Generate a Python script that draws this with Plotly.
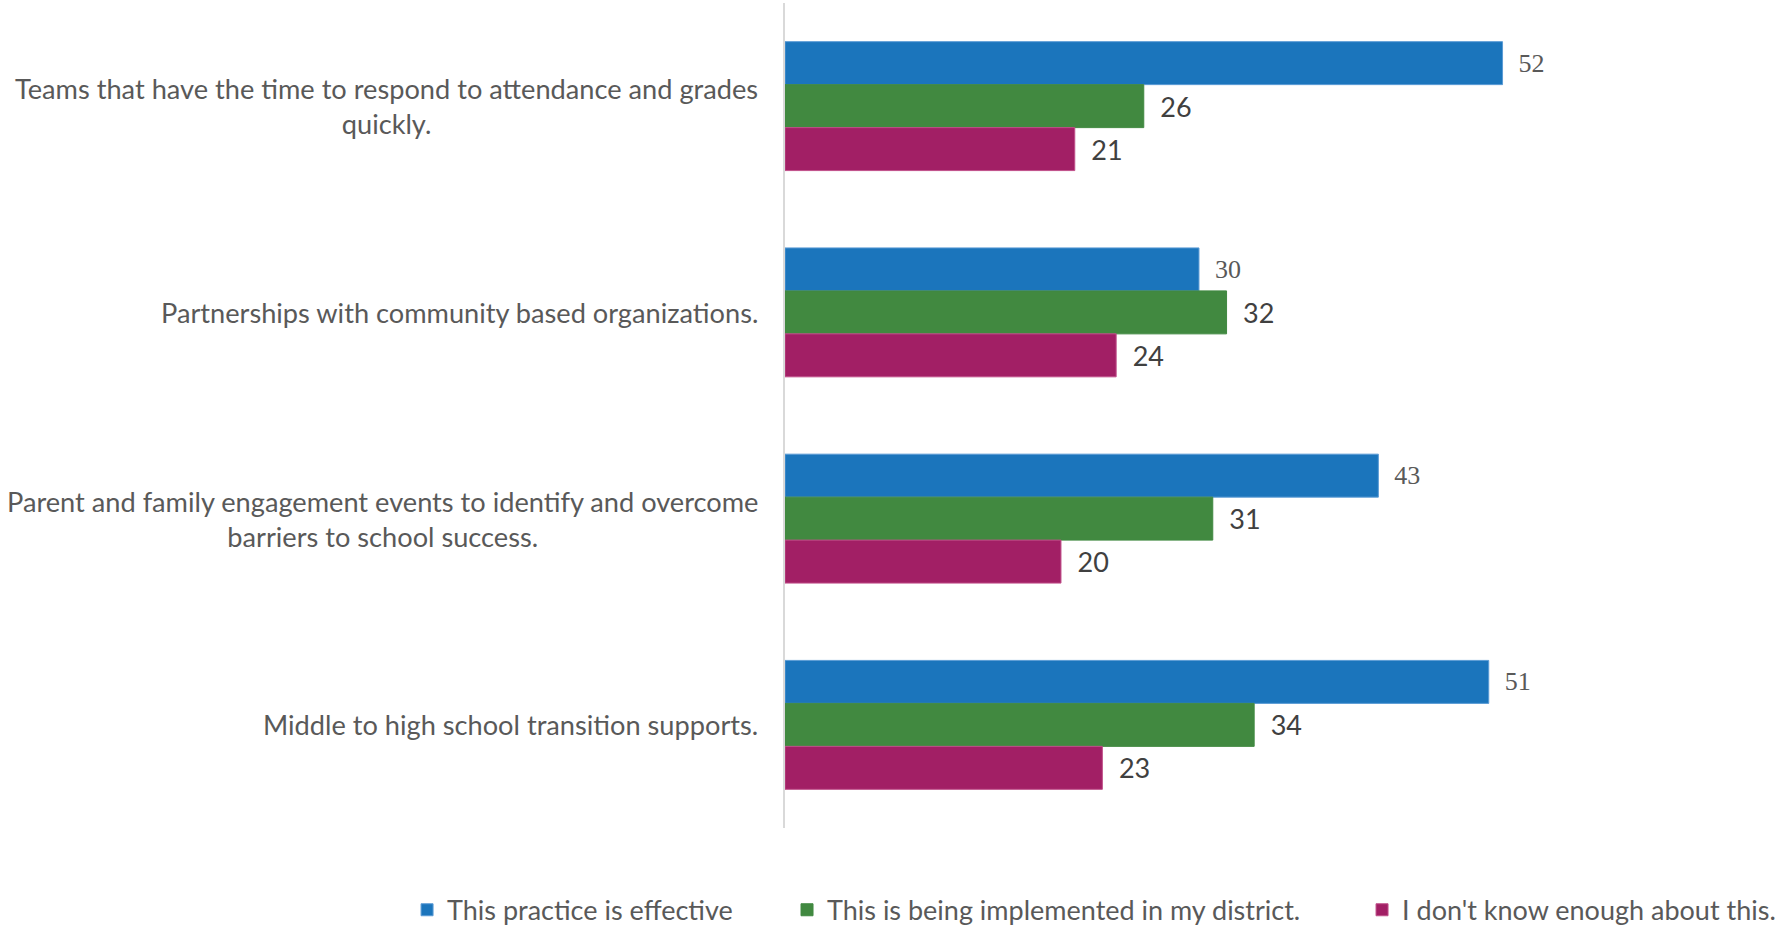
import plotly.graph_objects as go

# categories, top to bottom
categories = [
    "Teams that have the time to respond to attendance and grades<br>quickly.",
    "Partnerships with community based organizations.",
    "Parent and family engagement events to identify and overcome<br>barriers to school success.",
    "Middle to high school transition supports.",
]
series_names = [
    "This practice is effective",
    "This is being implemented in my district.",
    "I don't know enough about this.",
]
effective = [52, 30, 43, 51]
implemented = [26, 32, 31, 34]
dont_know = [21, 24, 20, 23]

colors = ["#1B75BC", "#418940", "#A21F65"]
edge_colors = ["#5B9BD5", "#418940", "#C0508A"]
label_fonts = [
    dict(family="Liberation Serif", size=26, color="#595959"),
    dict(family="Lato", size=27, color="#404040"),
    dict(family="Lato", size=27, color="#404040"),
]
legend_ids = ["legend", "legend2", "legend3"]
legend_x = [0.2283, 0.4414, 0.7639]

fig = go.Figure()
for name, vals, col, edge, lf, lg in zip(series_names, [effective, implemented, dont_know],
                                         colors, edge_colors, label_fonts, legend_ids):
    fig.add_trace(go.Bar(
        y=categories, x=vals, name=name, orientation="h", legend=lg,
        marker=dict(color=col, line=dict(color=edge, width=1)),
        text=vals, texttemplate="\u2002%{x}", textposition="outside",
        textfont=lf, cliponaxis=False,
    ))

# category labels, centred lines, right edge near the axis
for c in categories:
    fig.add_annotation(
        x=0, xref="paper", y=c, yref="y", text=c, showarrow=False,
        xanchor="right", align="center", xshift=-25,
        font=dict(family="Lato", size=27.2, color="#595959"),
    )

fig.update_layout(
    width=1783, height=925,
    margin=dict(l=785, r=10, t=3, b=97),
    plot_bgcolor="white", paper_bgcolor="white",
    barmode="group", bargap=0.375, bargroupgap=0,
    showlegend=True,
)
# one legend per series so each entry sits where the reference has it
for lg, lx in zip(legend_ids, legend_x):
    fig.update_layout({lg: dict(
        orientation="h", xref="container", yref="container",
        x=lx, xanchor="left", y=0.016, yanchor="middle",
        font=dict(family="Lato", size=27, color="#595959"),
        itemwidth=30, bgcolor="rgba(0,0,0,0)",
    )})
fig.update_xaxes(range=[0, 71.6], showgrid=False, zeroline=False,
                 showticklabels=False, showline=False)
fig.update_yaxes(autorange="reversed", showticklabels=False, showgrid=False,
                 showline=True, linecolor="#D9D9D9", linewidth=1.5, ticks="")

fig.write_html("out.html", config={"displayModeBar": False},
               post_script="document.body.style.margin='0';")
